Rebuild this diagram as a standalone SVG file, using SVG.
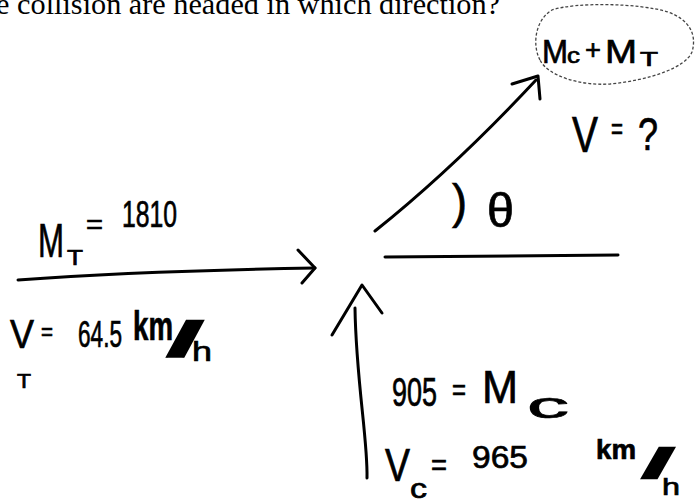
<svg xmlns="http://www.w3.org/2000/svg" width="695" height="503" viewBox="0 0 695 503">
<style>
.hand{font-family:"Liberation Sans","DejaVu Sans",sans-serif;fill:#000;stroke:#000;stroke-width:0.7}
.pen{fill:none;stroke:#000;stroke-width:3;stroke-linecap:round;stroke-linejoin:round}
.print{font-family:"Liberation Serif","Times New Roman",serif;fill:#000}
.ring{fill:none;stroke:#444;stroke-width:1.3;stroke-dasharray:3 2}
</style>
<rect width="695" height="503" fill="#fff"/>
<text class="print" x="-19" y="14" font-size="29" textLength="519" lengthAdjust="spacingAndGlyphs">he collision are headed in which direction?</text>

<g id="connectors">
  <path class="pen" d="M375 231 C420 195 480 140 536 80"/>
  <path class="pen" d="M512 84 L538 76 L540 99"/>
  <path class="pen" d="M18 280 C100 274 200 270 315 268"/>
  <path class="pen" d="M298 250 L315 268 L302 283"/>
  <path class="pen" d="M367 478 C368 440 356 380 355 308"/>
  <path class="pen" d="M332 335 L362 285 L382 313"/>
  <path class="pen" d="M385 257 L618 255"/>
</g>

<g id="combined">
  <path class="ring" d="M540 60 C532 45 535 20 552 10 C575 2 640 3 668 12 C690 20 697 35 692 52 C685 68 650 80 610 84 C580 86 548 76 540 60 Z"/>
  <text class="hand"><tspan x="542" y="63" font-size="34" textLength="26" lengthAdjust="spacingAndGlyphs">M</tspan><tspan x="567" y="63" font-size="22" textLength="13" lengthAdjust="spacingAndGlyphs">c</tspan><tspan x="585" y="59" font-size="28" textLength="16" lengthAdjust="spacingAndGlyphs">+</tspan><tspan x="605" y="63" font-size="34" textLength="32" lengthAdjust="spacingAndGlyphs">M</tspan><tspan x="640" y="66" font-size="20" textLength="18" lengthAdjust="spacingAndGlyphs">T</tspan></text>
</g>

<g id="velocity-unknown">
  <text class="hand"><tspan x="572" y="152" font-size="50" textLength="26" lengthAdjust="spacingAndGlyphs">V</tspan><tspan x="611" y="139" font-size="30" textLength="12" lengthAdjust="spacingAndGlyphs">=</tspan><tspan x="638" y="150" font-size="46" textLength="20" lengthAdjust="spacingAndGlyphs">?</tspan></text>
</g>

<g id="angle">
  <text class="hand"><tspan x="452" y="218" font-size="48" textLength="15" lengthAdjust="spacingAndGlyphs">)</tspan><tspan x="487" y="227" font-size="48" textLength="27" lengthAdjust="spacingAndGlyphs">θ</tspan></text>
</g>

<g id="truck">
  <text class="hand"><tspan x="38" y="257" font-size="48" textLength="26" lengthAdjust="spacingAndGlyphs">M</tspan><tspan x="67" y="265" font-size="22" textLength="16" lengthAdjust="spacingAndGlyphs">T</tspan><tspan x="86" y="234" font-size="28" textLength="17" lengthAdjust="spacingAndGlyphs">=</tspan><tspan x="122" y="227" font-size="36" textLength="55" lengthAdjust="spacingAndGlyphs">1810</tspan></text>
  <text class="hand"><tspan x="10" y="348" font-size="40" textLength="24" lengthAdjust="spacingAndGlyphs">V</tspan><tspan x="41" y="340" font-size="26" textLength="12" lengthAdjust="spacingAndGlyphs">=</tspan><tspan x="78" y="347" font-size="36" textLength="44" lengthAdjust="spacingAndGlyphs">64.5</tspan><tspan x="133" y="340" font-size="40" font-weight="bold" textLength="40" lengthAdjust="spacingAndGlyphs">km</tspan><tspan x="165" y="356" font-size="50" font-weight="bold" textLength="40" lengthAdjust="spacingAndGlyphs">/</tspan><tspan x="192" y="361" font-size="28" textLength="20" lengthAdjust="spacingAndGlyphs">h</tspan><tspan x="17" y="388" font-size="20" textLength="14" lengthAdjust="spacingAndGlyphs">T</tspan></text>
</g>

<g id="car">
  <text class="hand"><tspan x="392" y="406" font-size="40" textLength="45" lengthAdjust="spacingAndGlyphs">905</tspan><tspan x="452" y="400" font-size="30" textLength="14" lengthAdjust="spacingAndGlyphs">=</tspan><tspan x="482" y="403" font-size="46" textLength="36" lengthAdjust="spacingAndGlyphs">M</tspan><tspan x="527" y="418" font-size="36" textLength="42" lengthAdjust="spacingAndGlyphs">c</tspan></text>
  <text class="hand"><tspan x="385" y="481" font-size="46" textLength="25" lengthAdjust="spacingAndGlyphs">V</tspan><tspan x="410" y="498" font-size="28" textLength="17" lengthAdjust="spacingAndGlyphs">c</tspan><tspan x="431" y="475" font-size="30" textLength="16" lengthAdjust="spacingAndGlyphs">=</tspan><tspan x="472" y="468" font-size="32" textLength="56" lengthAdjust="spacingAndGlyphs">965</tspan><tspan x="596" y="459" font-size="28" font-weight="bold" textLength="40" lengthAdjust="spacingAndGlyphs">km</tspan><tspan x="640" y="478" font-size="42" font-weight="bold" textLength="36" lengthAdjust="spacingAndGlyphs">/</tspan><tspan x="662" y="495" font-size="24" textLength="18" lengthAdjust="spacingAndGlyphs">h</tspan></text>
</g>
</svg>
